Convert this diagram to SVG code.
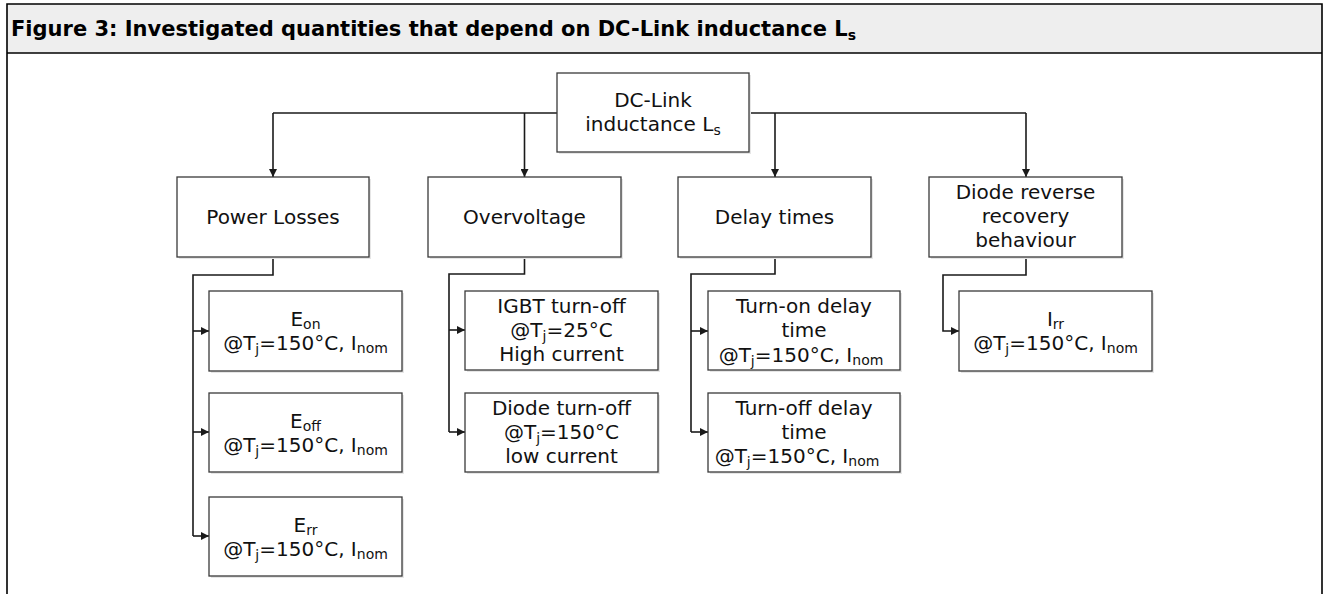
<svg xmlns="http://www.w3.org/2000/svg" width="1325" height="594" viewBox="0 0 1325 594">
<defs>
<style>
.box{fill:#fff;stroke:#3a3a3a;stroke-width:1.3}
.sh{fill:#e6e6e6}
.t{font-family:"DejaVu Sans",Verdana,sans-serif;font-size:20px;fill:#111;text-anchor:middle}
.sub{font-size:14px}
.c{fill:none;stroke:#1a1a1a;stroke-width:1.6}
.title{font-family:"DejaVu Sans",Verdana,sans-serif;font-size:21px;font-weight:bold;fill:#000}
</style>
<marker id="ah" viewBox="0 0 10 10" refX="10" refY="5" markerWidth="8" markerHeight="8" markerUnits="userSpaceOnUse" orient="auto">
<path d="M0,0 L10,5 L0,10 Z" fill="#1a1a1a"/>
</marker>
</defs>
<rect x="0" y="0" width="1325" height="594" fill="#fff"/>
<g id="frame">
<rect x="7" y="4" width="1315" height="49" fill="#eeeeee"/>
<path d="M7,594 V4 H1322 V594" fill="none" stroke="#000" stroke-width="1.6"/>
<line x1="7" y1="53" x2="1322" y2="53" stroke="#000" stroke-width="1.3"/>
<text class="title" x="11" y="36">Figure 3: Investigated quantities that depend on DC-Link inductance L<tspan font-size="14" dy="4">s</tspan></text>
</g>
<g id="connectors">
<path class="c" d="M557,113 H273"/>
<path class="c" d="M749,113 H1026"/>
<path class="c" d="M273,113 V177" marker-end="url(#ah)"/>
<path class="c" d="M524.5,113 V177" marker-end="url(#ah)"/>
<path class="c" d="M775,113 V177" marker-end="url(#ah)"/>
<path class="c" d="M1026,113 V177" marker-end="url(#ah)"/>
<path class="c" d="M273,257 V275 H193 V536"/>
<path class="c" d="M193,331 H209" marker-end="url(#ah)"/>
<path class="c" d="M193,432 H209" marker-end="url(#ah)"/>
<path class="c" d="M193,536 H209" marker-end="url(#ah)"/>
<path class="c" d="M524.5,257 V274 H449 V432"/>
<path class="c" d="M449,330 H465" marker-end="url(#ah)"/>
<path class="c" d="M449,432 H465" marker-end="url(#ah)"/>
<path class="c" d="M775,257 V274 H691 V432"/>
<path class="c" d="M691,331 H708" marker-end="url(#ah)"/>
<path class="c" d="M691,432 H708" marker-end="url(#ah)"/>
<path class="c" d="M1026,257 V275 H943 V331 H959" marker-end="url(#ah)"/>
</g>
<g id="n-dclink">
<rect class="sh" x="559" y="75" width="192" height="79"/>
<rect class="box" x="557" y="73" width="192" height="79"/>
<text class="t" x="653" y="107">DC-Link</text>
<text class="t" x="653" y="131">inductance L<tspan class="sub" dy="4">s</tspan></text>
</g>
<g id="n-power">
<rect class="sh" x="179" y="179" width="192" height="80"/>
<rect class="box" x="177" y="177" width="192" height="80"/>
<text class="t" x="273" y="224">Power Losses</text>
</g>
<g id="n-overvoltage">
<rect class="sh" x="430" y="179" width="193" height="80"/>
<rect class="box" x="428" y="177" width="193" height="80"/>
<text class="t" x="524.5" y="224">Overvoltage</text>
</g>
<g id="n-delay">
<rect class="sh" x="680" y="179" width="193" height="80"/>
<rect class="box" x="678" y="177" width="193" height="80"/>
<text class="t" x="774.5" y="224">Delay times</text>
</g>
<g id="n-diode">
<rect class="sh" x="931" y="179" width="193" height="80"/>
<rect class="box" x="929" y="177" width="193" height="80"/>
<text class="t" x="1025.5" y="199">Diode reverse</text>
<text class="t" x="1025.5" y="223">recovery</text>
<text class="t" x="1025.5" y="247">behaviour</text>
</g>
<g id="n-eon">
<rect class="sh" x="211" y="293" width="193" height="80"/>
<rect class="box" x="209" y="291" width="193" height="80"/>
<text class="t" x="305.5" y="326">E<tspan class="sub" dy="3">on</tspan></text>
<text class="t" x="305.5" y="350">@T<tspan class="sub" dy="4">j</tspan><tspan dy="-4">=150°C, I</tspan><tspan class="sub" dy="3">nom</tspan></text>
</g>
<g id="n-eoff">
<rect class="sh" x="211" y="395" width="193" height="79"/>
<rect class="box" x="209" y="393" width="193" height="79"/>
<text class="t" x="305.5" y="428">E<tspan class="sub" dy="3">off</tspan></text>
<text class="t" x="305.5" y="452">@T<tspan class="sub" dy="4">j</tspan><tspan dy="-4">=150°C, I</tspan><tspan class="sub" dy="3">nom</tspan></text>
</g>
<g id="n-err">
<rect class="sh" x="211" y="499" width="193" height="79"/>
<rect class="box" x="209" y="497" width="193" height="79"/>
<text class="t" x="305.5" y="532">E<tspan class="sub" dy="3">rr</tspan></text>
<text class="t" x="305.5" y="556">@T<tspan class="sub" dy="4">j</tspan><tspan dy="-4">=150°C, I</tspan><tspan class="sub" dy="3">nom</tspan></text>
</g>
<g id="n-igbt">
<rect class="sh" x="467" y="293" width="193" height="79"/>
<rect class="box" x="465" y="291" width="193" height="79"/>
<text class="t" x="561.5" y="313">IGBT turn-off</text>
<text class="t" x="561.5" y="337">@T<tspan class="sub" dy="4">j</tspan><tspan dy="-4">=25°C</tspan></text>
<text class="t" x="561.5" y="361">High current</text>
</g>
<g id="n-diodeoff">
<rect class="sh" x="467" y="395" width="193" height="79"/>
<rect class="box" x="465" y="393" width="193" height="79"/>
<text class="t" x="561.5" y="415">Diode turn-off</text>
<text class="t" x="561.5" y="439">@T<tspan class="sub" dy="4">j</tspan><tspan dy="-4">=150°C</tspan></text>
<text class="t" x="561.5" y="463">low current</text>
</g>
<g id="n-turnon">
<rect class="sh" x="710" y="293" width="192" height="79"/>
<rect class="box" x="708" y="291" width="192" height="79"/>
<text class="t" x="804" y="313">Turn-on delay</text>
<text class="t" x="804" y="337">time</text>
<text class="t" x="801" y="362">@T<tspan class="sub" dy="4">j</tspan><tspan dy="-4">=150°C, I</tspan><tspan class="sub" dy="3">nom</tspan></text>
</g>
<g id="n-turnoff">
<rect class="sh" x="710" y="395" width="192" height="79"/>
<rect class="box" x="708" y="393" width="192" height="79"/>
<text class="t" x="804" y="415">Turn-off delay</text>
<text class="t" x="804" y="439">time</text>
<text class="t" x="797" y="463">@T<tspan class="sub" dy="4">j</tspan><tspan dy="-4">=150°C, I</tspan><tspan class="sub" dy="3">nom</tspan></text>
</g>
<g id="n-irr">
<rect class="sh" x="961" y="293" width="193" height="80"/>
<rect class="box" x="959" y="291" width="193" height="80"/>
<text class="t" x="1055.5" y="326">I<tspan class="sub" dy="3">rr</tspan></text>
<text class="t" x="1055.5" y="350">@T<tspan class="sub" dy="4">j</tspan><tspan dy="-4">=150°C, I</tspan><tspan class="sub" dy="3">nom</tspan></text>
</g>
</svg>
